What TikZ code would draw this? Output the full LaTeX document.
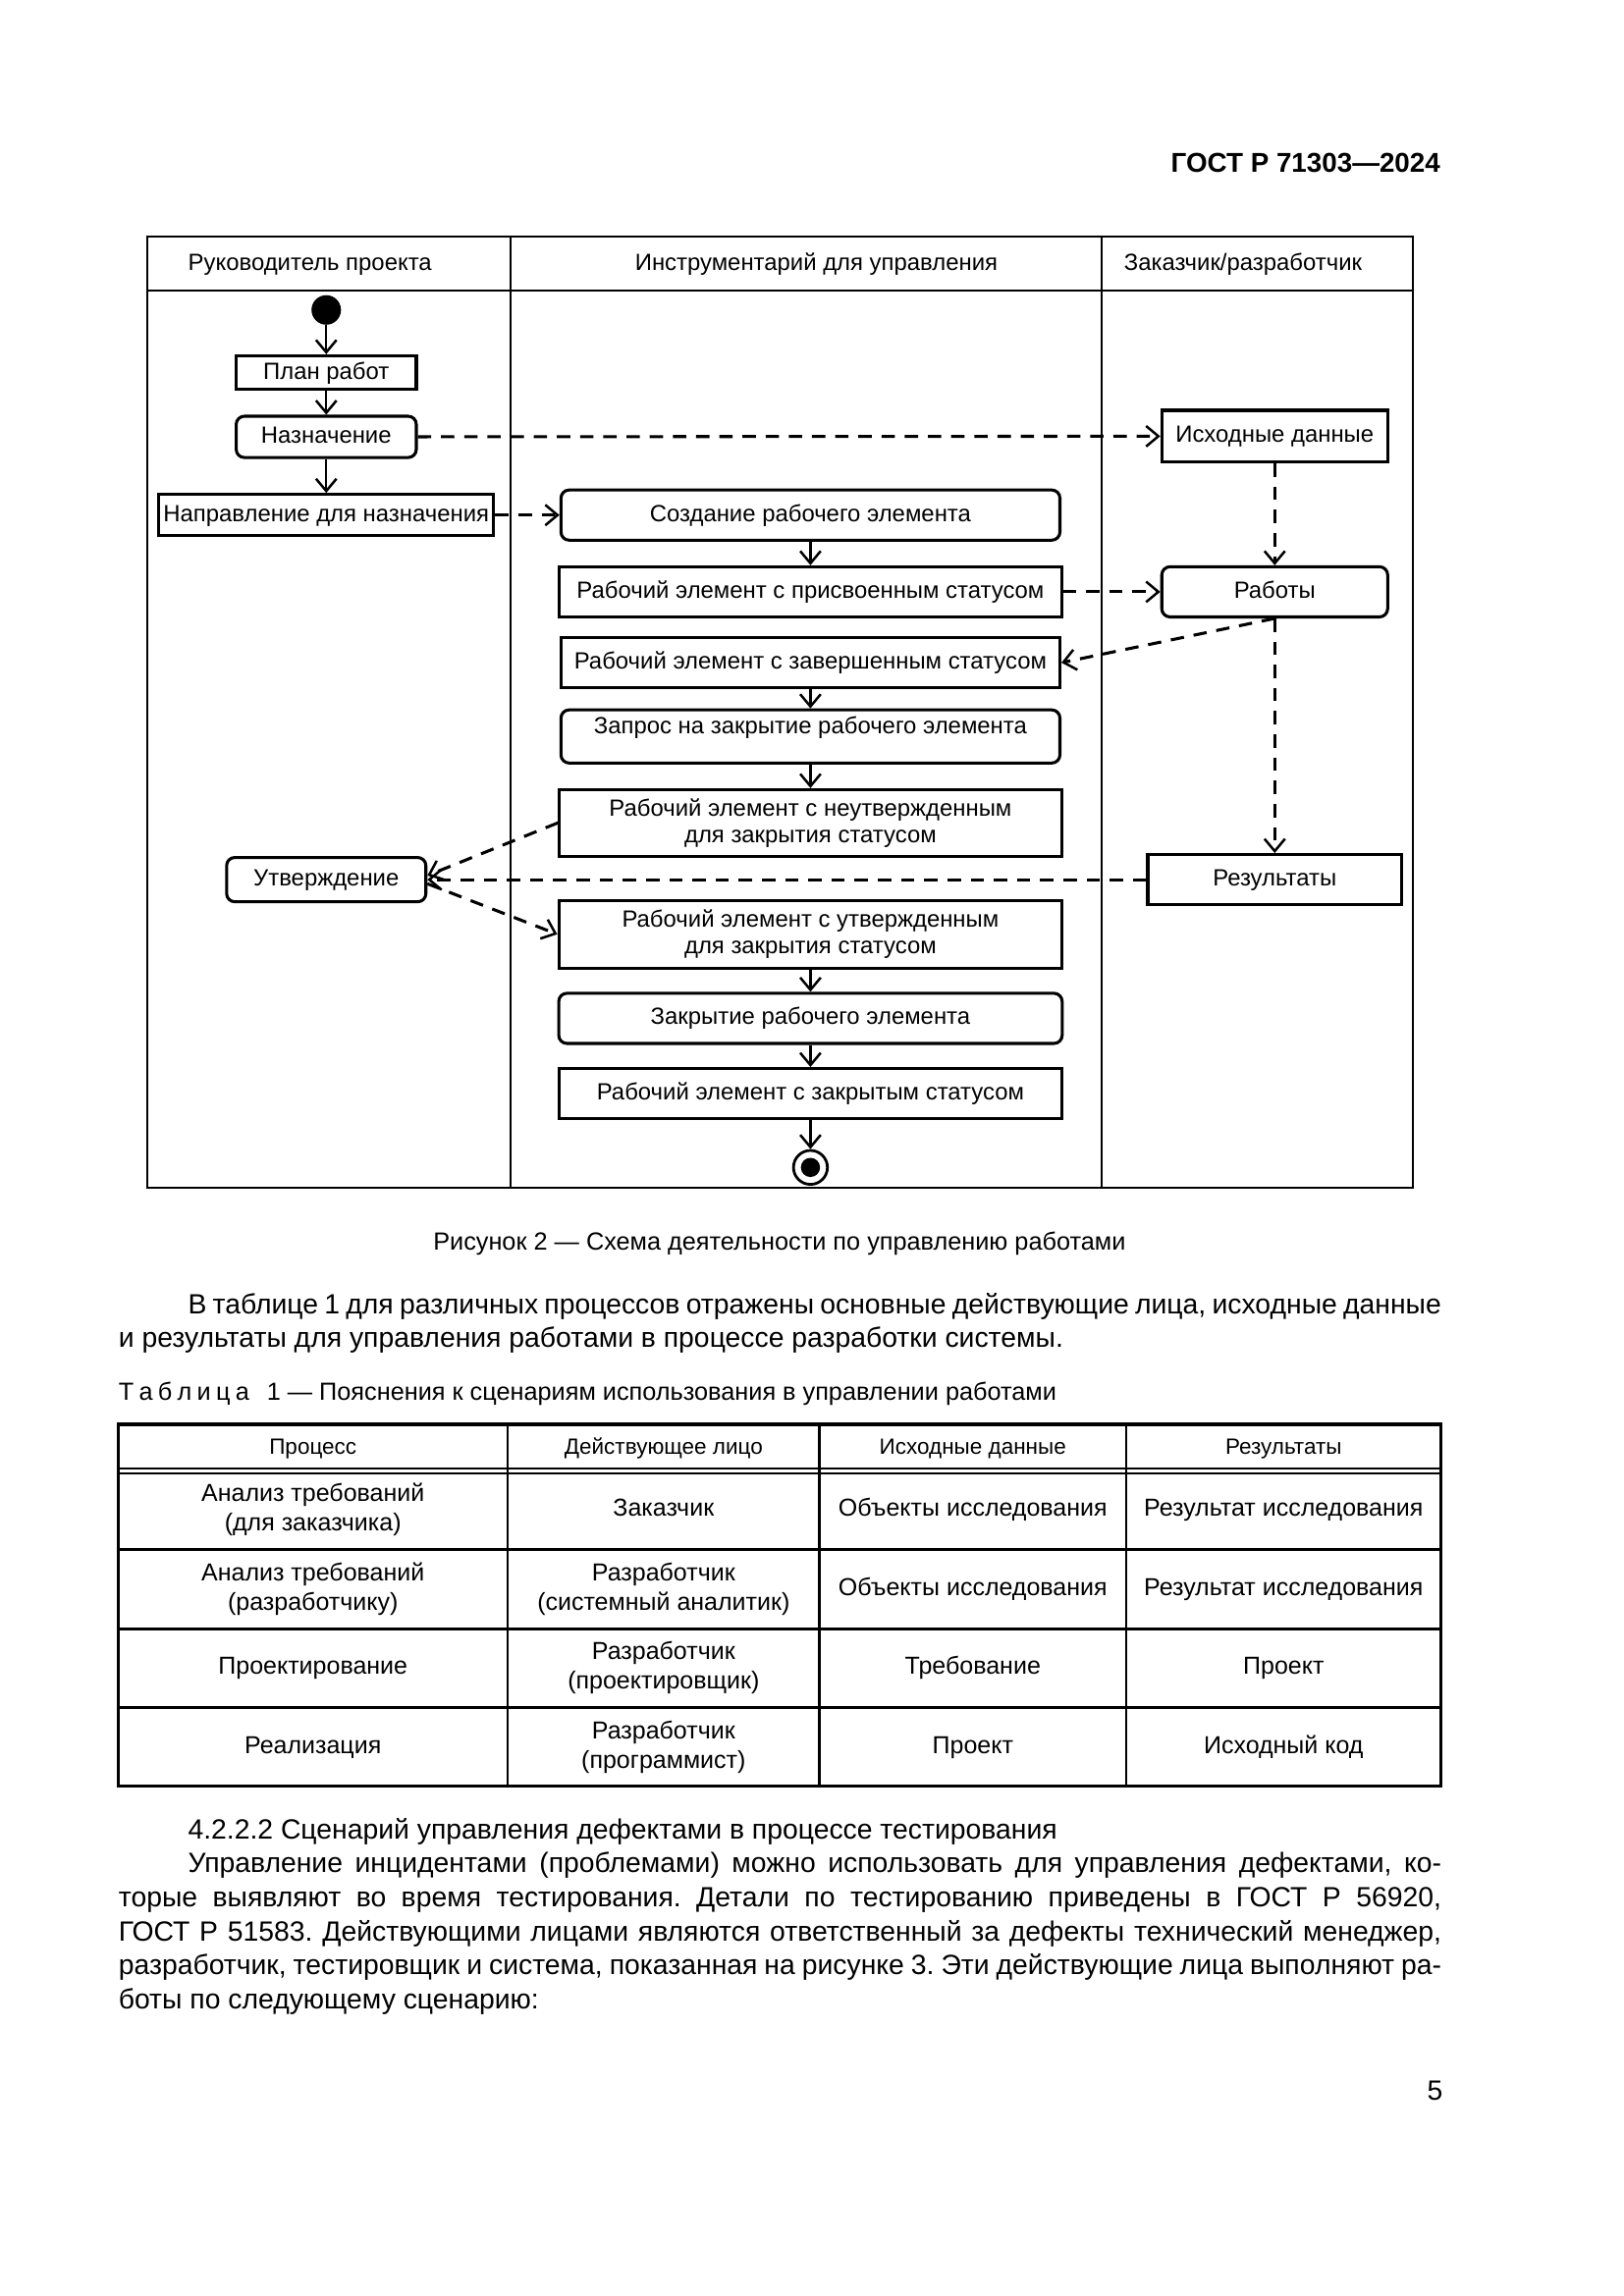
\documentclass[tikz,border=0pt]{standalone}
\usepackage{fontspec}
\setmainfont{Liberation Sans}
\usetikzlibrary{arrows.meta}
\newcommand\dgfont{\fontsize{8.6}{9.75}\selectfont}
\newcommand\bodyfont{\fontsize{10.2}{12.5}\selectfont}
\newcommand\capfont{\fontsize{9.1}{11}\selectfont}
\newcommand\tabfont{\fontsize{9}{10.8}\selectfont}
\newcommand\thfont{\fontsize{8.1}{9.5}\selectfont}
\newcommand\lsp{\kern1.9pt}
\frenchspacing
\begin{document}
\begin{tikzpicture}[x=0.54116pt, y=-0.54116pt,
  sz/.style 2 args={minimum width=#1*0.54116pt, minimum height=#2*0.54116pt},
  box/.style={draw, line width=1.1pt, inner sep=0pt, font=\dgfont, align=center},
  one/.style={text height=6.4pt, text depth=1.8pt},
  rbox/.style={box, rounded corners=3pt},
  >={Straight Barb[length=4.5pt, width=7.5pt, line width=0.9pt]},
  flow/.style={line width=0.8pt, ->},
  dflow/.style={line width=1.1pt, dash pattern=on 4.9pt off 3.6pt, ->},
  lbl/.style={inner sep=0pt},
  frame/.style={line width=0.7pt},
]
\fill[white] (0,0) rectangle (1100,1555.7);
\useasboundingbox (0,0) rectangle (1100,1555.7);

% page header
\node[lbl, anchor=base east, font=\fontsize{10}{12}\selectfont\bfseries] (gost) at (976,117) {ГОСТ Р 71303—2024};

% swimlane frame
\draw[frame] (100,160) rectangle (957,805);
\draw[frame] (100,197) -- (957,197);
\draw[frame] (346,160) -- (346,805);
\draw[frame] (746,160) -- (746,805);
\node[lbl, one, font=\dgfont] (lane1) at (210,179) {Руководитель проекта};
\node[lbl, one, font=\dgfont] (lane2) at (553,179) {Инструментарий для управления};
\node[lbl, one, font=\dgfont] (lane3) at (842,179) {Заказчик/разработчик};

% nodes
\node[circle, fill, inner sep=0pt, sz={20}{20}] (start) at (221,210) {};
\node[box, one, sz={122}{23}] (plan) at (221,252.5) {План работ};
\node[rbox, one, sz={122}{28}] (nazn) at (221,296) {Назначение};
\node[box, one, sz={227}{28}] (napr) at (221,349) {Направление для назначения};
\node[rbox, one, sz={338}{34}] (sozd) at (549,349) {Создание рабочего элемента};
\node[box, one, sz={340}{34}] (prisv) at (549,401) {Рабочий элемент с присвоенным статусом};
\node[box, one, sz={338}{34}] (zaver) at (549,449) {Рабочий элемент с завершенным статусом};
\node[rbox, text height=6.4pt, text depth=8.2pt, sz={338}{36}] (zapros) at (549,499) {Запрос на закрытие рабочего элемента};
\node[box, sz={340}{45}] (neutv) at (549,557.5) {Рабочий элемент с неутвержденным\\для закрытия статусом};
\node[rbox, one, sz={135}{30}] (appr) at (221,596) {Утверждение};
\node[box, sz={341}{46}] (utv) at (549,633) {Рабочий элемент с утвержденным\\для закрытия статусом};
\node[rbox, one, sz={341}{34}] (zakr) at (549,690) {Закрытие рабочего элемента};
\node[box, one, sz={341}{34}] (zakryt) at (549,741) {Рабочий элемент с закрытым статусом};
\node[circle, draw, fill=white, line width=1pt, inner sep=0pt, sz={23}{23}] (end) at (549,791) {};
\node[circle, fill, inner sep=0pt, sz={13}{13}] (endin) at (549,791) {};
\node[box, one, sz={153}{35}] (ishod) at (863.5,295.5) {Исходные данные};
\node[rbox, one, sz={153}{34}] (raboty) at (863.5,401) {Работы};
\node[box, one, sz={172}{34}] (rez) at (863.5,596) {Результаты};

% connectors
\draw[flow] (start) -- (plan);
\draw[flow] (plan) -- (nazn);
\draw[flow] (nazn) -- (napr);
\draw[dflow] (nazn) -- (ishod);
\draw[dflow] (napr) -- (sozd);
\draw[flow] (sozd) -- (prisv);
\draw[dflow] (prisv) -- (raboty);
\draw[dflow] (ishod) -- (raboty);
\draw[dflow] (raboty.south) -- (zaver.east);
\draw[flow] (zaver) -- (zapros);
\draw[flow] (zapros) -- (neutv);
\draw[dflow] (raboty) -- (rez);
\draw[dflow] (neutv.west) -- ([yshift=1.5pt]appr.east);
\draw[dflow] (rez) -- (appr);
\draw[dflow] ([yshift=-1.5pt]appr.east) -- (utv.west);
\draw[flow] (utv) -- (zakr);
\draw[flow] (zakr) -- (zakryt);
\draw[flow] (zakryt) -- (end);

% caption and text
\node[lbl, font=\capfont, anchor=base] (cap) at (528,847) {Рисунок 2 — Схема деятельности по управлению работами};
\node[lbl, font=\bodyfont, anchor=base west] (p1a) at (127,890) {\makebox[459.45pt][s]{В таблице 1 для различных процессов отражены основные действующие лица, исходные данные}};
\node[lbl, font=\bodyfont, anchor=base west] (p1b) at (80,913) {и результаты для управления работами в процессе разработки системы.};
\node[lbl, font=\capfont, anchor=base west] (ttl) at (80,949) {Т\lsp а\lsp б\lsp л\lsp и\lsp ц\lsp а\enspace\lsp 1 — Пояснения к сценариям использования в управлении работами};

% table
\draw[line width=1.2pt] (80,965) rectangle (976,1210);
\draw[line width=0.6pt] (80,995) -- (976,995);
\draw[line width=0.6pt] (80,998.5) -- (976,998.5);
\draw[line width=1.1pt] (80,1050) -- (976,1050);
\draw[line width=1.1pt] (80,1104) -- (976,1104);
\draw[line width=1.1pt] (80,1157) -- (976,1157);
\draw[line width=0.8pt] (344,965) -- (344,1210);
\draw[line width=0.8pt] (555,965) -- (555,1210);
\draw[line width=0.8pt] (763,965) -- (763,1210);

\node[lbl, one, font=\thfont] (h1) at (212,981) {Процесс};
\node[lbl, one, font=\thfont] (h2) at (449.5,981) {Действующее лицо};
\node[lbl, one, font=\thfont] (h3) at (659,981) {Исходные данные};
\node[lbl, one, font=\thfont] (h4) at (869.5,981) {Результаты};

\node[lbl, font=\tabfont, align=center] (r11) at (212,1023) {Анализ требований\\(для заказчика)};
\node[lbl, one, font=\tabfont] (r12) at (449.5,1023) {Заказчик};
\node[lbl, one, font=\tabfont] (r13) at (659,1023) {Объекты исследования};
\node[lbl, one, font=\tabfont] (r14) at (869.5,1023) {Результат исследования};

\node[lbl, font=\tabfont, align=center] (r21) at (212,1077) {Анализ требований\\(разработчику)};
\node[lbl, font=\tabfont, align=center] (r22) at (449.5,1077) {Разработчик\\(системный аналитик)};
\node[lbl, one, font=\tabfont] (r23) at (659,1077) {Объекты исследования};
\node[lbl, one, font=\tabfont] (r24) at (869.5,1077) {Результат исследования};

\node[lbl, one, font=\tabfont] (r31) at (212,1130) {Проектирование};
\node[lbl, font=\tabfont, align=center] (r32) at (449.5,1130) {Разработчик\\(проектировщик)};
\node[lbl, one, font=\tabfont] (r33) at (659,1130) {Требование};
\node[lbl, one, font=\tabfont] (r34) at (869.5,1130) {Проект};

\node[lbl, one, font=\tabfont] (r41) at (212,1184) {Реализация};
\node[lbl, font=\tabfont, align=center] (r42) at (449.5,1184) {Разработчик\\(программист)};
\node[lbl, one, font=\tabfont] (r43) at (659,1184) {Проект};
\node[lbl, one, font=\tabfont] (r44) at (869.5,1184) {Исходный код};

% section text
\node[lbl, font=\bodyfont, anchor=base west] (sec) at (127,1246) {4.2.2.2 Сценарий управления дефектами в процессе тестирования};
\node[lbl, font=\bodyfont, anchor=base west] (p2a) at (127,1269) {\makebox[459.45pt][s]{Управление инцидентами (проблемами) можно использовать для управления дефектами, ко-}};
\node[lbl, font=\bodyfont, anchor=base west] (p2b) at (80,1292) {\makebox[484.88pt][s]{торые выявляют во время тестирования. Детали по тестированию приведены в ГОСТ Р 56920,}};
\node[lbl, font=\bodyfont, anchor=base west] (p2c) at (80,1315) {\makebox[484.88pt][s]{ГОСТ Р 51583. Действующими лицами являются ответственный за дефекты технический менеджер,}};
\node[lbl, font=\bodyfont, anchor=base west] (p2d) at (80,1338) {\makebox[484.88pt][s]{разработчик, тестировщик и система, показанная на рисунке 3. Эти действующие лица выполняют ра-}};
\node[lbl, font=\bodyfont, anchor=base west] (p2e) at (80,1361) {боты по следующему сценарию:};

\node[lbl, font=\bodyfont, anchor=base] (pgnum) at (972,1423) {5};
\end{tikzpicture}
\end{document}
